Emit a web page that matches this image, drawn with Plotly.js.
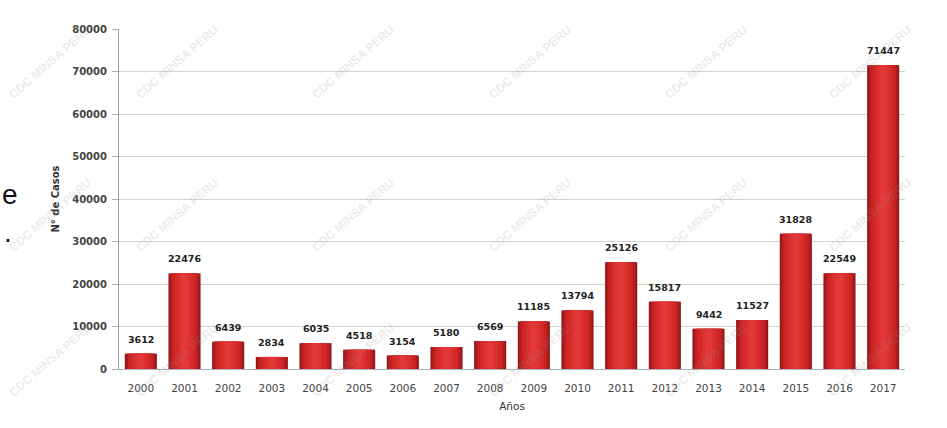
<!DOCTYPE html>
<html><head><meta charset="utf-8">
<script src="https://cdn.plot.ly/plotly-3.0.1.min.js"></script>
<style>html,body{margin:0;padding:0;background:#fff;overflow:hidden}#chart{width:947px;height:428px}</style>
</head><body><div id="chart"></div>
<script>
// ---- data ----
const years = ['2000','2001','2002','2003','2004','2005','2006','2007','2008','2009','2010','2011','2012','2013','2014','2015','2016','2017'];
const cases = [3612,22476,6439,2834,6035,4518,3154,5180,6569,11185,13794,25126,15817,9442,11527,31828,22549,71447];
const valueLabels = ['3612','22476','6439','2834','6035','4518','3154','5180','6569','11185','13794','25126','15817','9442','11527','31828','22549','71447'];
const yTickVals = [0,10000,20000,30000,40000,50000,60000,70000,80000];
const yTickText = ['0','10000','20000','30000','40000','50000','60000','70000','80000'];
const yTitle = 'N° de Casos';
const xTitle = 'Años';
const watermark = 'CDC MINSA PERU';

// ---- styling ----
const W = 947, H = 428;
const M = {l:119, r:42, t:29, b:59};
const pw = W - M.l - M.r, ph = H - M.t - M.b;
const px = v => (v - M.l) / pw;
const py = v => (H - M.b - v) / ph;

// cylinder-like shading: overlaid bars of decreasing width
const layers = [
  {w:0.735, c:'#8f1515'},
  {w:0.68,  c:'#ab1b1b'},
  {w:0.60,  c:'#c22222'},
  {w:0.48,  c:'#d22828'},
  {w:0.32,  c:'#dc3030'},
  {w:0.16,  c:'#e23838'}
];
const traces = layers.map(L => ({
  type:'bar', x: years, y: cases, width: L.w,
  marker:{color:L.c, line:{width:0}},
  hoverinfo:'skip', showlegend:false
}));

const annotations = years.map((yr,i) => ({
  x: i, y: cases[i], xref:'x', yref:'y', text: valueLabels[i],
  showarrow:false, yanchor:'bottom', yshift:7,
  font:{family:'DejaVu Sans', size:9.5, color:'#222', weight:'bold'}
}));

// watermark grid
const wmX = [50,177,353,530,706,870], wmY = [62,215,360];
wmY.forEach(yy => wmX.forEach(xx => annotations.push({
  x: px(xx), y: py(yy), xref:'paper', yref:'paper', text: watermark,
  showarrow:false, textangle:-41, xanchor:'center', yanchor:'middle',
  font:{family:'Liberation Sans', size:12, color:'rgba(150,150,150,0.2)', weight:'bold'}
})));

// cropped text fragments at the left edge
annotations.push({x: px(0), y: py(194), xref:'paper', yref:'paper', text:'e', showarrow:false,
  xanchor:'left', yanchor:'middle', font:{family:'Liberation Sans', size:28, color:'#111'}});
annotations.push({x: px(2), y: py(232), xref:'paper', yref:'paper', text:'.', showarrow:false,
  xanchor:'left', yanchor:'middle', font:{family:'Liberation Sans', size:28, color:'#111'}});

const layout = {
  width: W, height: H, margin: M,
  paper_bgcolor:'#fff', plot_bgcolor:'#fff',
  barmode:'overlay', showlegend:false,
  font:{family:'DejaVu Sans', color:'#444'},
  xaxis:{
    type:'category', categoryorder:'array', categoryarray: years,
    range:[-0.5, years.length - 0.5], autorange:false,
    showline:true, linecolor:'#a8b2bd', linewidth:1,
    ticks:'', showgrid:false, zeroline:false, automargin:true,
    tickfont:{family:'DejaVu Sans', size:10.5, color:'#444'},
    ticklabelstandoff: 9,
    title:{text:xTitle, standoff:10, font:{family:'DejaVu Sans', size:10.5, color:'#333'}}
  },
  yaxis:{
    range:[0,80000], autorange:false, tickvals:yTickVals, ticktext:yTickText,
    showline:true, linecolor:'#9a9a9a', linewidth:1,
    ticks:'outside', ticklen:6, tickcolor:'#b0b0b0',
    showgrid:true, gridcolor:'#d2d2d2', gridwidth:1, zeroline:false,
    automargin:true, ticklabelstandoff:3,
    tickfont:{family:'DejaVu Sans', size:10, color:'#444', weight:'bold'},
    title:{text:yTitle, standoff:10, font:{family:'DejaVu Sans', size:10, color:'#333', weight:'bold'}}
  },
  annotations: annotations
};
Plotly.newPlot('chart', traces, layout, {displayModeBar:false, staticPlot:true});
</script>
</body></html>
